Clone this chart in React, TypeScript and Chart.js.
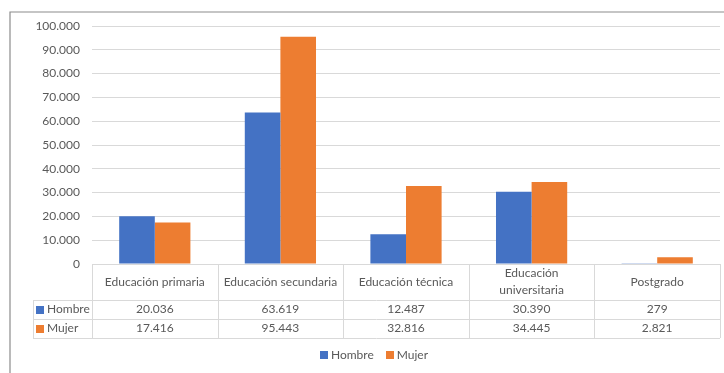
import React, { useEffect, useRef } from "react";
import { Chart, registerables } from "chart.js";

Chart.register(...registerables);

// Enrolment by education level and sex
const categories = [
  "Educación primaria",
  "Educación secundaria",
  "Educación técnica",
  "Educación universitaria",
  "Postgrado",
];
const hombreValues = [20036, 63619, 12487, 30390, 279];
const mujerValues = [17416, 95443, 32816, 34445, 2821];
const seriesNames = ["Hombre", "Mujer"];
const yMax = 100000;
const yStep = 10000;

const BLUE = "#4472C4";
const ORANGE = "#ED7D31";
const TEXT = "#595959";
const GRID = "#D9D9D9";
const FONT_FAMILY = "Lato, 'Liberation Sans', sans-serif";
const FONT_SIZE = 12;

const HEADER_H = 36;
const ROW_H = 19;
const KEY_LEFT = 33;
const LEGEND_H = 35;

const fmt = (v: number) =>
  String(Math.round(v)).replace(/\B(?=(\d{3})+(?!\d))/g, ".");

const crisp = (v: number) => Math.round(v) + 0.5;

function wrapText(ctx: CanvasRenderingContext2D, text: string, maxW: number): string[] {
  if (ctx.measureText(text).width <= maxW) return [text];
  const words = text.split(" ");
  const lines: string[] = [];
  let cur = "";
  for (const w of words) {
    const test = cur ? cur + " " + w : w;
    if (cur && ctx.measureText(test).width > maxW) {
      lines.push(cur);
      cur = w;
    } else {
      cur = test;
    }
  }
  if (cur) lines.push(cur);
  return lines;
}

// Outer frame around the chart
const framePlugin = {
  id: "frame",
  beforeDraw(chart: any) {
    const { ctx, width, height } = chart;
    ctx.save();
    ctx.strokeStyle = "#8C8C8C";
    ctx.lineWidth = 1.2;
    ctx.beginPath();
    ctx.moveTo(10, height);
    ctx.lineTo(10, 12);
    ctx.lineTo(width, 12);
    ctx.stroke();
    ctx.restore();
  },
};

// Data table drawn under the category axis, plus the series legend below it
const dataTablePlugin = {
  id: "dataTable",
  afterDraw(chart: any) {
    const { ctx, chartArea } = chart;
    const n = categories.length;
    const left = chartArea.left;
    const right = chartArea.right;
    const top = chartArea.bottom;
    const catW = (right - left) / n;
    const row1 = top + HEADER_H;
    const row2 = row1 + ROW_H;
    const bottom = row2 + ROW_H;

    ctx.save();
    ctx.strokeStyle = GRID;
    ctx.lineWidth = 1;
    const line = (x1: number, y1: number, x2: number, y2: number) => {
      ctx.beginPath();
      ctx.moveTo(x1, y1);
      ctx.lineTo(x2, y2);
      ctx.stroke();
    };
    line(left, crisp(top), right, crisp(top));
    line(KEY_LEFT, crisp(row1), right, crisp(row1));
    line(KEY_LEFT, crisp(row2), right, crisp(row2));
    line(KEY_LEFT, crisp(bottom), right, crisp(bottom));
    for (let i = 0; i <= n; i++) {
      const xi = crisp(left + i * catW);
      line(xi, top, xi, bottom);
    }
    line(crisp(KEY_LEFT), row1, crisp(KEY_LEFT), bottom);

    ctx.fillStyle = TEXT;
    ctx.font = `${FONT_SIZE}px ${FONT_FAMILY}`;
    ctx.textAlign = "center";
    ctx.textBaseline = "middle";

    // Category headers
    categories.forEach((cat, i) => {
      const cx = left + (i + 0.5) * catW;
      const lines = wrapText(ctx, cat, catW - 12);
      const lh = 17;
      const cy = top + HEADER_H / 2;
      lines.forEach((ln, j) => {
        ctx.fillText(ln, cx, cy + (j - (lines.length - 1) / 2) * lh);
      });
    });

    // Series rows
    const rows = [hombreValues, mujerValues];
    const colors = [BLUE, ORANGE];
    rows.forEach((vals, r) => {
      const cy = row1 + r * ROW_H + ROW_H / 2;
      ctx.fillStyle = colors[r];
      ctx.fillRect(KEY_LEFT + 3, Math.round(cy - 4), 8, 8);
      ctx.fillStyle = TEXT;
      ctx.textAlign = "left";
      ctx.fillText(seriesNames[r], KEY_LEFT + 14, cy);
      ctx.textAlign = "center";
      vals.forEach((v, i) => {
        ctx.fillText(fmt(v), left + (i + 0.5) * catW, cy);
      });
    });

    // Legend, centred under the plot
    const box = 8;
    const gapBox = 3;
    const gapItem = 12;
    const widths = seriesNames.map((s) => box + gapBox + ctx.measureText(s).width);
    const total = widths.reduce((a, b) => a + b, 0) + gapItem * (widths.length - 1);
    let lx = (left + right) / 2 - total / 2 - 32;
    const ly = bottom + 17;
    ctx.textAlign = "left";
    seriesNames.forEach((s, i) => {
      ctx.fillStyle = colors[i];
      ctx.fillRect(Math.round(lx), Math.round(ly - 4), box, box);
      ctx.fillStyle = TEXT;
      ctx.fillText(s, lx + box + gapBox, ly);
      lx += widths[i] + gapItem;
    });
    ctx.restore();
  },
};

export default function App() {
  const canvasRef = useRef<HTMLCanvasElement | null>(null);

  useEffect(() => {
    document.body.style.margin = "0";
    const canvas = canvasRef.current;
    if (!canvas) return;
    const chart = new Chart(canvas, {
      type: "bar",
      data: {
        labels: categories,
        datasets: [
          {
            label: seriesNames[0],
            data: hombreValues,
            backgroundColor: BLUE,
            borderWidth: 0,
            categoryPercentage: 0.567,
            barPercentage: 1,
          },
          {
            label: seriesNames[1],
            data: mujerValues,
            backgroundColor: ORANGE,
            borderWidth: 0,
            categoryPercentage: 0.567,
            barPercentage: 1,
          },
        ],
      },
      options: {
        animation: false,
        responsive: false,
        maintainAspectRatio: false,
        layout: { padding: { top: 26, left: 0, right: 4, bottom: LEGEND_H } },
        font: { family: FONT_FAMILY, size: FONT_SIZE },
        scales: {
          x: {
            grid: { display: false, drawTicks: false },
            border: { display: false },
            ticks: { display: false },
            afterFit(scale: any) {
              scale.height = HEADER_H + 2 * ROW_H;
            },
          },
          y: {
            min: 0,
            max: yMax,
            grid: { color: GRID, drawTicks: false, lineWidth: 1 },
            border: { display: false },
            ticks: {
              stepSize: yStep,
              padding: 12,
              color: TEXT,
              font: { family: FONT_FAMILY, size: FONT_SIZE },
              callback: (v: any) => fmt(Number(v)),
            },
            afterFit(scale: any) {
              scale.width = 92;
            },
          },
        },
        plugins: {
          legend: { display: false },
          tooltip: { enabled: false },
        },
      },
      plugins: [framePlugin, dataTablePlugin],
    } as any);
    return () => chart.destroy();
  }, []);

  return (
    <div style={{ width: 724, height: 373 }}>
      <canvas ref={canvasRef} width={724} height={373} style={{ display: "block" }} />
    </div>
  );
}
